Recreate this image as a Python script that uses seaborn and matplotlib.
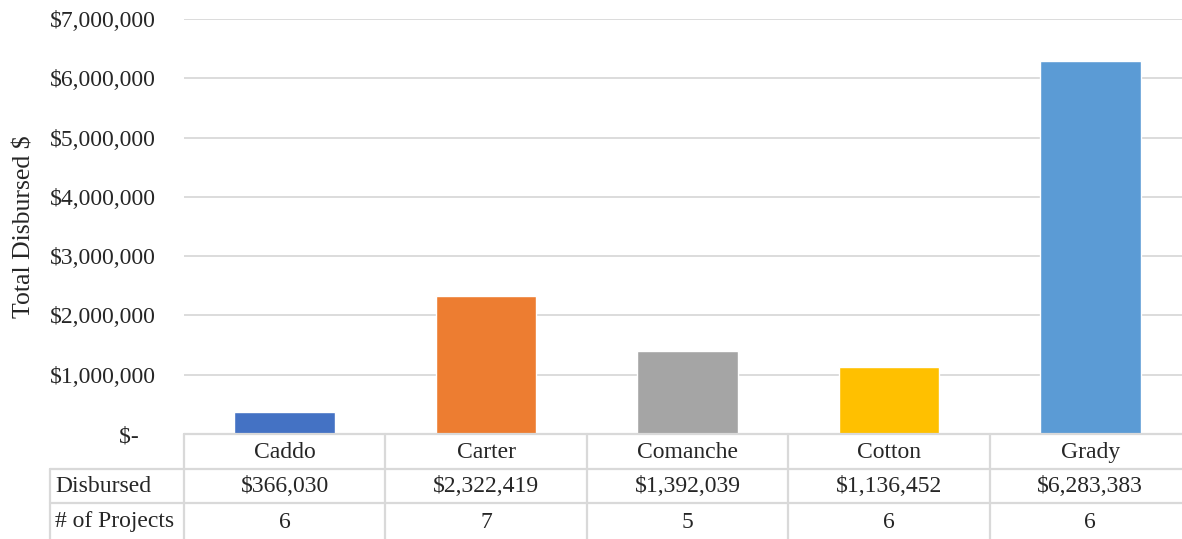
import matplotlib
matplotlib.use("Agg")
import matplotlib.pyplot as plt
import matplotlib.transforms as mtransforms
import seaborn as sns
import pandas as pd

# ---- data ----
counties = ["Caddo", "Carter", "Comanche", "Cotton", "Grady"]
disbursed = [366030, 2322419, 1392039, 1136452, 6283383]
projects = [6, 7, 5, 6, 6]
bar_colors = ["#4472C4", "#ED7D31", "#A5A5A5", "#FFC000", "#5B9BD5"]
y_ticks = [0, 1000000, 2000000, 3000000, 4000000, 5000000, 6000000, 7000000]
row_labels = ["Disbursed", "# of Projects"]

sns.set_style("white")
plt.rcParams["font.family"] = ["Liberation Serif", "DejaVu Serif"]

FS = 17
W, H = 1182, 539
fig = plt.figure(figsize=(W / 100, H / 100), dpi=100)
left, right, top, bottom = 184, 1191, 19, 434
ax = fig.add_axes([left / W, (H - bottom) / H, (right - left) / W, (bottom - top) / H])

df = pd.DataFrame({"county": counties, "disbursed": disbursed})
sns.barplot(data=df, x="county", y="disbursed", hue="county", palette=bar_colors,
            width=0.5, saturation=1, legend=False, ax=ax, zorder=3)

grid_c = "#D9D9D9"
ax.set_ylim(0, 7000000)
ax.set_xlim(-0.5, len(counties) - 0.5)
ax.set_yticks(y_ticks)
ax.set_yticklabels([f"${v:,.0f}" if v else "$-   " for v in y_ticks], fontsize=FS)
ax.tick_params(axis="y", length=0, pad=20)
ax.set_xticks([])
ax.set_xlabel("")
ax.set_ylabel("Total Disbursed $", fontsize=18.5)
ax.yaxis.set_label_coords((36 - left) / (right - left), 0.5)
ax.yaxis.grid(True, color=grid_c, linewidth=1.3, zorder=0)
for s in ax.spines.values():
    s.set_visible(False)

# ---- data table below the axis ----
tr = mtransforms.blended_transform_factory(ax.transData, fig.transFigure)
ftr = fig.transFigure
def fy(py):
    return (H - py) / H

r0, r1, r2, r3 = 434, 469, 503, 545
lw = 1.6
n = len(counties)
fig.add_artist(plt.Line2D([-0.5, n - 0.5], [fy(r0)] * 2, transform=tr, color=grid_c, lw=lw))
for r in (r1, r2):
    fig.add_artist(plt.Line2D([50 / W, right / W], [fy(r)] * 2, transform=ftr, color=grid_c, lw=lw))
for i in range(n + 1):
    fig.add_artist(plt.Line2D([i - 0.5] * 2, [fy(r0), fy(r3)], transform=tr, color=grid_c, lw=lw))
fig.add_artist(plt.Line2D([50 / W] * 2, [fy(r1), fy(r3)], transform=ftr, color=grid_c, lw=lw))

rows_mid = [(r0 + r1) / 2 + 1, (r1 + r2) / 2 + 1, (r2 + 539) / 2 + 1]
for i, (c, v, p) in enumerate(zip(counties, disbursed, projects)):
    fig.text(i, fy(rows_mid[0]), c, transform=tr, ha="center", va="center", fontsize=FS)
    fig.text(i, fy(rows_mid[1]), f"${v:,}", transform=tr, ha="center", va="center", fontsize=FS)
    fig.text(i, fy(rows_mid[2]), str(p), transform=tr, ha="center", va="center", fontsize=FS)
for lab, ym in zip(row_labels, rows_mid[1:]):
    fig.text(55 / W, fy(ym), lab, ha="left", va="center", fontsize=FS)

fig.savefig("out.png", dpi=100)
